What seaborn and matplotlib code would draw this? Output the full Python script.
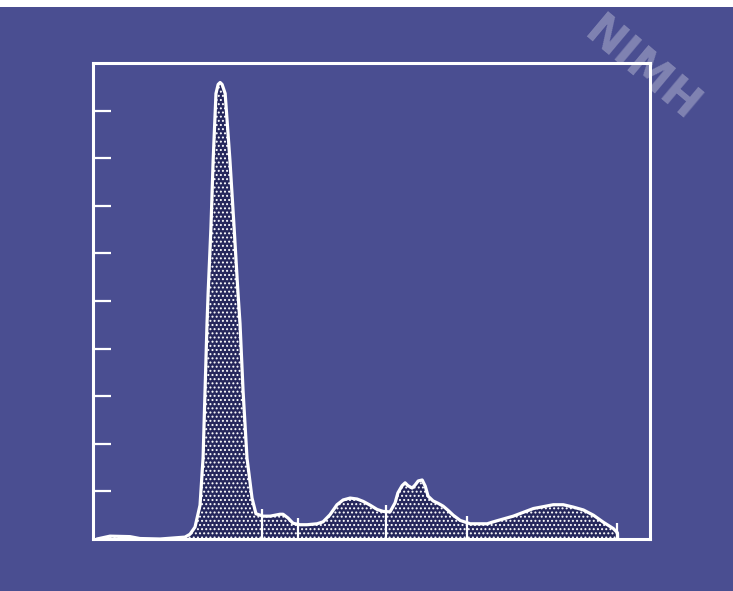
import numpy as np
import pandas as pd
import seaborn as sns
import matplotlib.pyplot as plt
from matplotlib.patches import Rectangle

# Histogram: channel (0-255) and relative count (0-10 scale)
channel = [1.8, 7.8, 16.9, 21.5, 30.7, 42.1, 44.4, 46.7, 49.0, 50.4,
           51.3, 52.2, 52.7, 54.0, 55.0, 56.3, 57.3, 58.2, 59.1, 60.5,
           62.7, 64.6, 66.4, 67.3, 68.7, 70.5, 72.8, 74.6, 77.9, 81.1,
           85.6, 87.0, 89.3, 91.6, 94.8, 98.0, 102.6, 105.3, 108.5, 111.7,
           114.5, 117.7, 120.9, 123.7, 126.9, 130.1, 132.8, 136.0, 138.3, 139.6,
           141.5, 142.9, 144.2, 146.1, 147.4, 148.9, 150.7, 152.1, 153.4, 155.7,
           158.0, 160.3, 162.6, 164.9, 168.1, 172.7, 177.3, 180.5, 183.2, 187.8,
           192.4, 197.0, 201.6, 206.2, 210.7, 215.3, 219.9, 224.5, 229.1, 233.7,
           238.2, 240.1, 240.2]
counts = [0.0, 0.06, 0.05, 0.01, 0.0, 0.04, 0.1, 0.25, 0.71, 1.71,
          3.12, 4.53, 5.16, 6.55, 7.95, 9.36, 9.55, 9.59, 9.55, 9.36,
          7.95, 6.54, 5.15, 4.53, 3.11, 1.70, 0.86, 0.53, 0.48, 0.48,
          0.52, 0.52, 0.44, 0.33, 0.30, 0.30, 0.32, 0.36, 0.51, 0.72,
          0.82, 0.86, 0.84, 0.79, 0.71, 0.62, 0.58, 0.57, 0.76, 0.97,
          1.12, 1.18, 1.12, 1.07, 1.13, 1.22, 1.24, 1.11, 0.90, 0.80,
          0.75, 0.69, 0.60, 0.50, 0.39, 0.32, 0.32, 0.32, 0.36, 0.42,
          0.48, 0.56, 0.64, 0.68, 0.72, 0.72, 0.67, 0.61, 0.50, 0.35,
          0.22, 0.13, 0.0]

# Region markers (cursor lines) and their heights
marker_ch = [77.4, 93.9, 134.2, 171.3, 240.1]
marker_top = [0.63, 0.45, 0.72, 0.49, 0.33]

y_ticks = [1, 2, 3, 4, 5, 6, 7, 8, 9]

bg = '#4a4e91'
df = pd.DataFrame({'channel': channel, 'count': counts})

sns.set_style("dark")
plt.rcParams['hatch.linewidth'] = 0.9

fig = plt.figure(figsize=(7.33, 5.91), dpi=100)
fig.patch.set_facecolor('white')
# slide area (white strip left at the top edge)
fig.patches.append(Rectangle((0, 0), 1, 1 - 7 / 591, transform=fig.transFigure,
                             facecolor=bg, edgecolor='none', zorder=-10))

ax = fig.add_axes([93 / 733, 1 - 539 / 591, 557 / 733, 476 / 591])
ax.set_facecolor(bg)

ax.fill_between(df['channel'], df['count'], 0, facecolor='#25275c',
                edgecolor='white', hatch='....', linewidth=0, zorder=2)
sns.lineplot(data=df, x='channel', y='count', color='white', linewidth=2.3,
             estimator=None, sort=False, ax=ax, zorder=3)
ax.vlines(marker_ch, 0, marker_top, color='white', linewidth=1.6, zorder=4)

ax.set_xlim(0, 255)
ax.set_ylim(0, 10)
ax.set_xticks([])
ax.set_yticks(y_ticks)
ax.set_yticklabels([])
ax.tick_params(axis='y', direction='in', length=13, width=1.6, color='white', left=True)
ax.set_xlabel('')
ax.set_ylabel('')
ax.grid(False)
for s in ax.spines.values():
    s.set_visible(True)
    s.set_color('white')
    s.set_linewidth(2.2)

# watermark
fig.text(642 / 733, 1 - 70 / 591, 'NIMH', color='white', alpha=0.3, fontsize=32,
         fontweight='bold', rotation=-40, ha='center', va='center')

fig.savefig('out.png', dpi=100, facecolor=fig.get_facecolor())
